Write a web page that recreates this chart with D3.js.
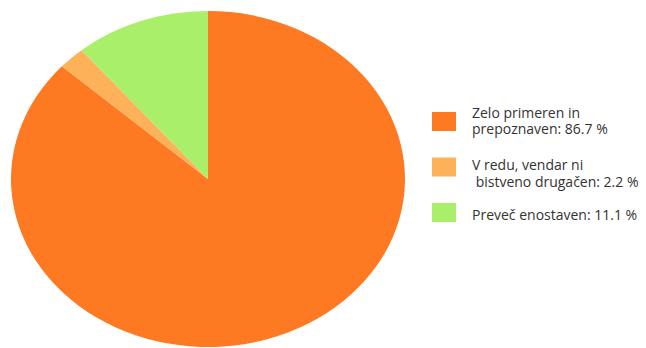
<!DOCTYPE html>
<html>
<head>
<meta charset="utf-8">
<script src="https://cdn.jsdelivr.net/npm/d3@7/dist/d3.min.js"></script>
<style>
  html, body { margin: 0; padding: 0; background: #fff; }
  svg { display: block; }
  text { font-family: "Open Sans", sans-serif; fill: #333; }
</style>
</head>
<body>
<div id="chart"></div>
<script>
// Survey answers and their shares (percent)
const categories = ["Zelo primeren in prepoznaven", "V redu, vendar ni bistveno drugačen", "Preveč enostaven"];
const values = [86.7, 2.2, 11.1];
const legendLines = [
  ["Zelo primeren in", "prepoznaven: 86.7 %"],
  ["V redu, vendar ni", " bistveno drugačen: 2.2 %"],
  ["Preveč enostaven: 11.1 %"]
];
const colors = ["#fd7a22", "#fdb25a", "#a9ef69"];

const width = 646, height = 348;
const svg = d3.select("#chart").append("svg")
  .attr("width", width).attr("height", height);

// Pie is drawn as a circle and stretched horizontally into an ellipse
const cx = 208, cy = 179, rx = 197, ry = 168;
const pie = d3.pie().sort(null).value(d => d)(values);
const arc = d3.arc().innerRadius(0).outerRadius(ry);

const color = d3.scaleOrdinal().domain(d3.range(values.length)).range(colors);

svg.append("g")
  .attr("transform", `translate(${cx},${cy}) scale(${rx / ry},1)`)
  .selectAll("path")
  .data(pie)
  .join("path")
  .attr("d", arc)
  .attr("fill", (d, i) => color(i));

// Legend: swatch plus one or two lines of text per entry
const legendY = d3.scalePoint().domain(d3.range(values.length)).range([112, 203]);
const firstBaseline = [5.5, 12.5, 17];
const lineGap = 16.5;

const lg = svg.append("g").selectAll("g")
  .data(categories)
  .join("g")
  .attr("transform", (d, i) => `translate(432,${legendY(i)})`);

lg.append("rect")
  .attr("width", 24).attr("height", 19)
  .attr("fill", (d, i) => color(i));

lg.each(function (d, i) {
  const t = d3.select(this).append("text")
    .attr("font-size", 14)
    .attr("xml:space", "preserve");
  legendLines[i].forEach((ln, j) => {
    t.append("tspan")
      .attr("x", 40)
      .attr("y", firstBaseline[i] + j * lineGap)
      .text(ln);
  });
});
</script>
</body>
</html>
